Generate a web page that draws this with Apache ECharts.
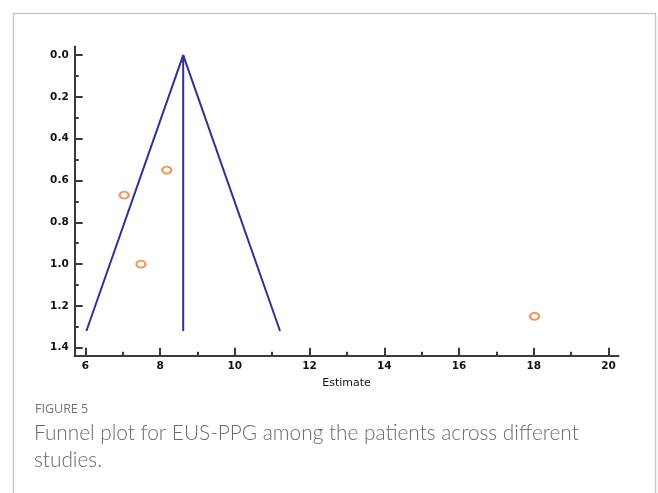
<!DOCTYPE html>
<html>
<head>
<meta charset="utf-8">
<script src="https://cdn.jsdelivr.net/npm/echarts@6/dist/echarts.min.js"></script>
<style>
  html, body { margin: 0; padding: 0; background: #fff; }
  #chart { width: 658px; height: 493px; }
</style>
</head>
<body>
<div id="chart"></div>
<script>
// Study estimates and their standard errors
const studyEstimate = [8.18, 7.04, 7.49, 18.02];
const studySE = [0.55, 0.67, 1.0, 1.25];

// Funnel outline: left limit, apex (pooled estimate), right limit
const funnelX = [6.03, 8.62, 11.21];
const funnelY = [1.32, 0.0, 1.32];
// Vertical line at the pooled estimate
const pooledX = [8.62, 8.62];
const pooledY = [0.0, 1.32];

// Tick positions
const xMajor = [6, 8, 10, 12, 14, 16, 18, 20];
const xMinor = [7, 9, 11, 13, 15, 17, 19];
const yMajor = [0.0, 0.2, 0.4, 0.6, 0.8, 1.0, 1.2, 1.4];
const yMinor = [0.1, 0.3, 0.5, 0.7, 0.9, 1.1, 1.3];

const X_MIN = 5.717, X_MAX = 20.26;
const Y_MIN = -0.04, Y_MAX = 1.438;

const axisColor = '#3a3a3a';
const lineBlue = '#2f3192';
const dotOrange = '#f2782a';
const labelFont = 'DejaVu Sans';

const chart = echarts.init(document.getElementById('chart'), null, { renderer: 'canvas' });

function xAxisDef(ticks, labels, len, showLabel) {
  return {
    type: 'value', min: X_MIN, max: X_MAX, position: 'bottom',
    axisLine: { show: true, onZero: false, lineStyle: { color: axisColor, width: 2 } },
    axisTick: { show: true, inside: true, length: len, customValues: ticks,
                lineStyle: { color: axisColor, width: 2 } },
    axisLabel: { show: showLabel, customValues: labels, margin: 5,
                 color: '#111', fontFamily: labelFont, fontSize: 10.5, fontWeight: 'bold',
                 formatter: v => String(Math.round(v)) },
    splitLine: { show: false }
  };
}
function yAxisDef(ticks, labels, len, showLabel) {
  return {
    type: 'value', min: Y_MIN, max: Y_MAX, inverse: true, position: 'left',
    axisLine: { show: true, onZero: false, lineStyle: { color: axisColor, width: 2 } },
    axisTick: { show: true, inside: true, length: len, customValues: ticks,
                lineStyle: { color: axisColor, width: 2 } },
    axisLabel: { show: showLabel, customValues: labels, margin: 6,
                 color: '#111', fontFamily: labelFont, fontSize: 10.5, fontWeight: 'bold',
                 formatter: v => v.toFixed(1) },
    splitLine: { show: false }
  };
}

const xAxes = [xAxisDef(xMajor, xMajor, 8, true), xAxisDef(xMinor, [], 4, false)];
xAxes[0].name = 'Estimate';
xAxes[0].nameLocation = 'middle';
xAxes[0].nameGap = 22;
xAxes[0].nameTextStyle = { color: '#111', fontFamily: labelFont, fontSize: 11 };

const yAxes = [yAxisDef(yMajor, yMajor, 8, true), yAxisDef(yMinor, [], 4, false)];

chart.setOption({
  backgroundColor: '#fff',
  animation: false,
  grid: { left: 74.7, top: 46.7, right: 39.7, bottom: 137.3, containLabel: false },
  xAxis: xAxes,
  yAxis: yAxes,
  series: [
    {
      type: 'line', xAxisIndex: 0, yAxisIndex: 0,
      data: funnelX.map((x, i) => [x, funnelY[i]]),
      symbol: 'none', lineStyle: { color: lineBlue, width: 2 }, z: 2
    },
    {
      type: 'line', xAxisIndex: 0, yAxisIndex: 0,
      data: pooledX.map((x, i) => [x, pooledY[i]]),
      symbol: 'none', lineStyle: { color: lineBlue, width: 2 }, z: 2
    },
    {
      type: 'scatter', xAxisIndex: 0, yAxisIndex: 0,
      data: studyEstimate.map((x, i) => [x, studySE[i]]),
      symbol: 'emptyCircle', symbolSize: [9, 7],
      itemStyle: { color: dotOrange, borderColor: dotOrange, borderWidth: 1.3 }, z: 3
    }
  ],
  graphic: [
    {
      type: 'rect', shape: { x: 13.5, y: 13.5, width: 642, height: 500 },
      style: { fill: null, stroke: '#c8c8c8', lineWidth: 1.5 }, silent: true
    },
    {
      type: 'text', left: 35, top: 403,
      style: { text: 'FIGURE 5', fill: '#737373', font: '12.5px "Open Sans"' }
    },
    {
      type: 'text', left: 34, top: 420,
      style: {
        text: 'Funnel plot for EUS-PPG among the patients across different\nstudies.',
        fill: '#6a6a6a', font: '300 20.8px Lato', lineHeight: 27
      }
    }
  ]
});
</script>
</body>
</html>
